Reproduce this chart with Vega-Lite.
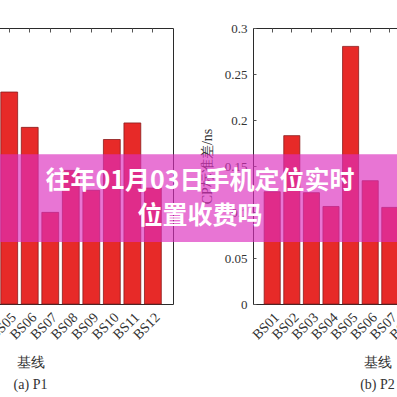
{
  "$schema": "https://vega.github.io/schema/vega-lite/v6.json",
  "padding": {"left": -148, "top": 21, "right": 0, "bottom": 0},
  "background": "white",
  "datasets": {
    "p1": [
      {"station": "BS01", "value": 0.15},
      {"station": "BS02", "value": 0.12},
      {"station": "BS03", "value": 0.18},
      {"station": "BS04", "value": 0.1},
      {"station": "BS05", "value": 0.192},
      {"station": "BS06", "value": 0.16},
      {"station": "BS07", "value": 0.083},
      {"station": "BS08", "value": 0.121},
      {"station": "BS09", "value": 0.103},
      {"station": "BS10", "value": 0.149},
      {"station": "BS11", "value": 0.164},
      {"station": "BS12", "value": 0.105}
    ],
    "p2": [
      {"station": "BS01", "value": 0.122},
      {"station": "BS02", "value": 0.183},
      {"station": "BS03", "value": 0.121},
      {"station": "BS04", "value": 0.106},
      {"station": "BS05", "value": 0.28},
      {"station": "BS06", "value": 0.134},
      {"station": "BS07", "value": 0.105},
      {"station": "BS08", "value": 0.15},
      {"station": "BS09", "value": 0.12},
      {"station": "BS10", "value": 0.16},
      {"station": "BS11", "value": 0.11},
      {"station": "BS12", "value": 0.13}
    ],
    "banner": [{"line1": "往年01月03日手机定位实时", "line2": "位置收费吗"}]
  },
  "config": {
    "view": {"stroke": "#2b2b2b", "strokeWidth": 1},
    "axis": {
      "labelFont": "Liberation Serif",
      "labelFontSize": 13,
      "labelColor": "#333333",
      "titleFont": "Liberation Serif",
      "titleFontSize": 14,
      "titleFontWeight": "normal",
      "titleColor": "#333333",
      "domain": false,
      "grid": false,
      "tickColor": "#555555"
    }
  },
  "spacing": 80,
  "bounds": "flush",
  "hconcat": [
    {
      "width": 266,
      "height": 276,
      "data": {"name": "p1"},
      "layer": [
        {
          "mark": {"type": "bar", "fill": "#e72a28", "stroke": "#8a1c1c", "strokeWidth": 0.8},
          "encoding": {
            "x": {"field": "station", "type": "nominal", "sort": null,
              "scale": {"paddingInner": 0.18, "paddingOuter": 0.57},
              "axis": {"orient": "bottom", "labelAngle": -45, "ticks": false, "labelPadding": 6, "labelFontSize": 14,
                "title": ["基线", "(a) P1"], "titleLineHeight": 22, "titleX": 123, "titlePadding": 14}},
            "y": {"field": "value", "type": "quantitative", "scale": {"domain": [0, 0.25], "nice": false}, "axis": null}
          }
        },
        {
          "mark": {"type": "bar", "opacity": 0},
          "encoding": {
            "x": {"field": "station", "type": "nominal", "sort": null,
              "axis": {"orient": "top", "labels": false, "title": null, "tickSize": -4}},
            "y": {"field": "value", "type": "quantitative", "scale": {"domain": [0, 0.25], "nice": false},
              "axis": {"orient": "right", "labels": false, "title": null, "tickSize": -4,
                "values": [0, 0.05, 0.1, 0.15, 0.2, 0.25]}}
          }
        }
      ]
    },
    {
      "width": 254,
      "height": 276,
      "layer": [
        {
          "data": {"name": "p2"},
          "mark": {"type": "bar", "fill": "#e72a28", "stroke": "#8a1c1c", "strokeWidth": 0.8},
          "encoding": {
            "x": {"field": "station", "type": "nominal", "sort": null,
              "scale": {"paddingInner": 0.18, "paddingOuter": 0.57},
              "axis": {"orient": "bottom", "labelAngle": -45, "ticks": false, "labelPadding": 6, "labelFontSize": 14,
                "title": ["基线", "(b) P2"], "titleLineHeight": 22, "titleX": 124, "titlePadding": 14}},
            "y": {"field": "value", "type": "quantitative", "scale": {"domain": [0, 0.3], "nice": false},
              "axis": {"orient": "left", "title": "CP标准差/ns", "tickSize": -3, "labelPadding": 9,
                "titlePadding": 10, "format": "~g",
                "values": [0, 0.05, 0.1, 0.15, 0.2, 0.25, 0.3]}}
          }
        },
        {
          "data": {"name": "p2"},
          "mark": {"type": "bar", "opacity": 0},
          "encoding": {
            "x": {"field": "station", "type": "nominal", "sort": null,
              "axis": {"orient": "top", "labels": false, "title": null, "tickSize": -4}},
            "y": {"field": "value", "type": "quantitative"}
          }
        },
        {
          "data": {"name": "banner"},
          "mark": {"type": "rect", "fill": "#dc2dbd", "opacity": 0.66},
          "encoding": {
            "x": {"value": -400},
            "x2": {"value": 200},
            "y": {"datum": 0.1627},
            "y2": {"datum": 0.0674}
          }
        },
        {
          "data": {"name": "banner"},
          "mark": {"type": "text", "font": "Noto Sans CJK SC", "fontWeight": "bold", "fontSize": 25,
            "color": "white", "align": "center", "baseline": "middle"},
          "encoding": {
            "x": {"value": -53},
            "y": {"datum": 0.1333},
            "text": {"field": "line1"}
          }
        },
        {
          "data": {"name": "banner"},
          "mark": {"type": "text", "font": "Noto Sans CJK SC", "fontWeight": "bold", "fontSize": 25,
            "color": "white", "align": "center", "baseline": "middle"},
          "encoding": {
            "x": {"value": -53},
            "y": {"datum": 0.0957},
            "text": {"field": "line2"}
          }
        }
      ]
    }
  ]
}
